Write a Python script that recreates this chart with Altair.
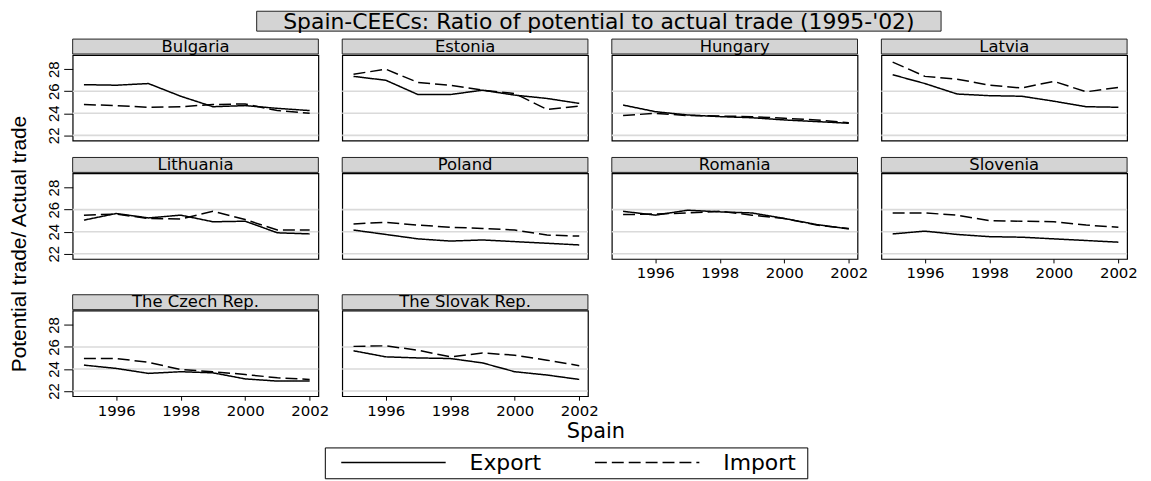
import altair as alt
import pandas as pd

years = [1995, 1996, 1997, 1998, 1999, 2000, 2001, 2002]
countries = ["Bulgaria", "Estonia", "Hungary", "Latvia", "Lithuania", "Poland",
             "Romania", "Slovenia", "The Czech Rep.", "The Slovak Rep."]
series_names = ["Export", "Import"]

bulgaria_export = [26.6, 26.55, 26.7, 25.55, 24.6, 24.7, 24.45, 24.25]
bulgaria_import = [24.8, 24.7, 24.55, 24.6, 24.8, 24.85, 24.25, 24.0]
estonia_export = [27.35, 27.0, 25.7, 25.7, 26.1, 25.65, 25.35, 24.9]
estonia_import = [27.55, 28.0, 26.8, 26.55, 26.1, 25.8, 24.35, 24.65]
hungary_export = [24.75, 24.15, 23.85, 23.7, 23.6, 23.4, 23.25, 23.1]
hungary_import = [23.8, 24.0, 23.8, 23.75, 23.7, 23.55, 23.4, 23.15]
latvia_export = [27.5, 26.7, 25.75, 25.6, 25.55, 25.1, 24.6, 24.55]
latvia_import = [28.65, 27.35, 27.1, 26.55, 26.3, 26.9, 25.95, 26.35]
lithuania_export = [25.05, 25.65, 25.25, 25.5, 24.9, 24.95, 23.9, 23.8]
lithuania_import = [25.5, 25.6, 25.2, 25.15, 25.85, 25.1, 24.15, 24.15]
poland_export = [24.15, 23.75, 23.35, 23.15, 23.25, 23.1, 22.95, 22.8]
poland_import = [24.7, 24.85, 24.6, 24.4, 24.3, 24.15, 23.7, 23.6]
romania_export = [25.85, 25.5, 25.95, 25.8, 25.7, 25.2, 24.65, 24.25]
romania_import = [25.55, 25.6, 25.7, 25.85, 25.5, 25.2, 24.6, 24.3]
slovenia_export = [23.8, 24.05, 23.75, 23.55, 23.5, 23.35, 23.2, 23.05]
slovenia_import = [25.7, 25.7, 25.5, 25.0, 24.95, 24.9, 24.6, 24.4]
czech_export = [24.35, 24.05, 23.6, 23.75, 23.65, 23.1, 22.9, 22.9]
czech_import = [24.95, 24.95, 24.6, 23.95, 23.75, 23.5, 23.2, 23.05]
slovak_export = [25.65, 25.1, 25.0, 24.95, 24.55, 23.75, 23.45, 23.05]
slovak_import = [26.05, 26.1, 25.7, 25.1, 25.45, 25.25, 24.8, 24.3]

y_ticks = [22, 24, 26, 28]
grid_values = [22, 24, 26]
x_ticks = [1996, 1998, 2000, 2002]

title_text = "Spain-CEECs: Ratio of potential to actual trade (1995-'02)"
y_title_text = "Potential trade/ Actual trade"
x_title_text = "Spain"

series_by_country = {
    "Bulgaria": (bulgaria_export, bulgaria_import),
    "Estonia": (estonia_export, estonia_import),
    "Hungary": (hungary_export, hungary_import),
    "Latvia": (latvia_export, latvia_import),
    "Lithuania": (lithuania_export, lithuania_import),
    "Poland": (poland_export, poland_import),
    "Romania": (romania_export, romania_import),
    "Slovenia": (slovenia_export, slovenia_import),
    "The Czech Rep.": (czech_export, czech_import),
    "The Slovak Rep.": (slovak_export, slovak_import),
}

rows = []
for c in countries:
    exp, imp = series_by_country[c]
    for s, vals in zip(series_names, (exp, imp)):
        for yr, v in zip(years, vals):
            rows.append({"country": c, "series": s, "year": yr, "value": v})
df = pd.DataFrame(rows)

W, H = 247, 86
FONT = "DejaVu Sans"
ARIAL = "Liberation Sans"

xscale = alt.Scale(domain=[1994.65, 2002.27], nice=False, zero=False)
yscale = alt.Scale(domain=[21.53, 29.29], nice=False, zero=False)

dash_scale = alt.Scale(domain=series_names, range=[[1, 0], [12, 5]])
legend = alt.Legend(
    orient="none", legendX=374, legendY=398, direction="horizontal", title=None,
    symbolType="M-5,0H5", symbolSize=441, symbolStrokeWidth=1.5,
    symbolStrokeColor="black", symbolFillColor="transparent",
    labelFont=FONT, labelFontSize=22,
    labelColor="black", labelOffset=65, columnPadding=50, padding=0,
    labelBaseline="middle",
)

y_axis = alt.Axis(values=y_ticks, labelAngle=270, labelAlign="center",
                  labelBaseline="bottom", labelFont=ARIAL, labelFontSize=15,
                  labelColor="black", tickSize=9, tickColor="black",
                  tickWidth=1, labelPadding=2, domain=False, grid=False,
                  title=None, labelFlush=False)
x_axis = alt.Axis(values=x_ticks, format="d", labelFont=FONT, labelFontSize=15,
                  labelColor="black", tickSize=4, tickColor="black",
                  tickWidth=1, labelPadding=3, domain=False, grid=False,
                  title=None, labelFlush=False)


def panel(name, show_y, show_x, extras=()):
    d = df[df["country"] == name]
    ya = y_axis if show_y else None
    xa = x_axis if show_x else None
    grid = alt.Chart(pd.DataFrame({"g": grid_values})).mark_rule(
        color="#dadada", strokeWidth=1.6
    ).encode(y=alt.Y("g:Q", scale=yscale, axis=ya))
    lines = alt.Chart(d).mark_line(color="black", strokeWidth=1.5).encode(
        x=alt.X("year:Q", scale=xscale, axis=xa),
        y=alt.Y("value:Q", scale=yscale, axis=ya),
        strokeDash=alt.StrokeDash("series:N", scale=dash_scale, legend=legend),
    )
    lab = pd.DataFrame({"label": [name]})
    strip = alt.Chart(lab).mark_rect(fill="#d4d4d4", stroke="#222222", strokeWidth=1).encode(
        x=alt.value(0), x2=alt.value(W), y=alt.value(-16), y2=alt.value(-1)
    )
    strip_text = alt.Chart(lab).mark_text(font=FONT, fontSize=16.5, color="black",
                                          baseline="middle", align="center").encode(
        text="label:N", x=alt.value(W / 2), y=alt.value(-8.5)
    )
    layers = [grid, lines, strip, strip_text] + list(extras)
    return alt.layer(*layers).properties(width=W, height=H)


# main title drawn above the Bulgaria panel
tdf = pd.DataFrame({"t": [title_text]})
title_box = alt.Chart(tdf).mark_rect(fill="#d4d4d4", stroke="#222222", strokeWidth=1).encode(
    x=alt.value(185), x2=alt.value(873), y=alt.value(-44), y2=alt.value(-24)
)
title_txt = alt.Chart(tdf).mark_text(font=FONT, fontSize=22, color="black",
                                     baseline="middle", align="center").encode(
    text="t:N", x=alt.value(529), y=alt.value(-33.5)
)

# x title below the Slovak panel
sdf = pd.DataFrame({"t": [x_title_text]})
spain_txt = alt.Chart(sdf).mark_text(font=FONT, fontSize=21, color="black",
                                     baseline="middle", align="center").encode(
    text="t:N", x=alt.value(255), y=alt.value(122)
)

# frame around the legend, drawn below the Czech panel
ldf = pd.DataFrame({"t": ["legend"]})
legend_box = alt.Chart(ldf).mark_rect(fill="white", fillOpacity=0, stroke="black",
                                      strokeWidth=1).encode(
    x=alt.value(254), x2=alt.value(739), y=alt.value(138), y2=alt.value(169)
)

row1 = alt.hconcat(
    panel("Bulgaria", True, False, [title_box, title_txt]),
    panel("Estonia", False, False),
    panel("Hungary", False, False),
    panel("Latvia", False, False),
    spacing=24, bounds="flush",
)
row2 = alt.hconcat(
    panel("Lithuania", True, False),
    panel("Poland", False, False),
    panel("Romania", False, True),
    panel("Slovenia", False, True),
    spacing=24, bounds="flush",
)
row3 = alt.hconcat(
    panel("The Czech Rep.", True, True, [legend_box]),
    panel("The Slovak Rep.", False, True, [spain_txt]),
    spacing=24, bounds="flush",
)

ytdf = pd.DataFrame({"t": [y_title_text]})
ytitle = alt.Chart(ytdf).mark_text(font=ARIAL, fontSize=21, color="black", angle=270,
                                   baseline="middle", align="center").encode(
    text="t:N", x=alt.value(10), y=alt.value(190)
).properties(width=20, height=330, view=alt.ViewBackground(strokeOpacity=0))

grid_part = alt.vconcat(row1, row2, row3, spacing=11)

chart = alt.hconcat(ytitle, grid_part, spacing=15).properties(
    padding={"left": 0, "top": 0, "right": 5, "bottom": 0},
    background="white",
).configure_view(stroke="black", strokeWidth=1.2)

chart.save("out.html", embed_options={"renderer": "svg", "actions": False})
